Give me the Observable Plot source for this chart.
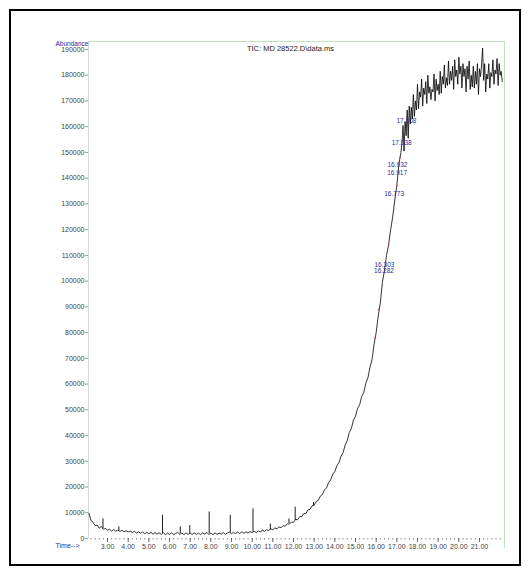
<!DOCTYPE html>
<html>
<head>
<meta charset="utf-8">
<script src="https://cdn.jsdelivr.net/npm/d3@7"></script>
<script src="https://cdn.jsdelivr.net/npm/@observablehq/plot@0.6"></script>
<style>
  html, body { margin: 0; padding: 0; background: #fff; }
  #wrap { position: relative; width: 532px; height: 568px; }
  #border { position: absolute; left: 9px; top: 9px; width: 512px; height: 557px; box-sizing: border-box; border: 2px solid #000; pointer-events: none; }
  svg { display: block; }
</style>
</head>
<body>
<div id="wrap"><div id="border"></div></div>
<script>
// ---- data ----
const title = "TIC: MD 28522.D\\data.ms";
const yTickValues = d3.range(0, 190001, 10000);
const xTickValues = d3.range(3, 21.5, 1);
const xMinorTicks = d3.range(2.2, 22.1, 0.2);

// rise section: sampled every 0.1 min from 2.1 min
const riseStart = 2.1, riseStep = 0.1;
const riseValues = [
  9800, 7000, 6300, 5000, 5200, 4000, 4700, 3600, 3900, 3300,
  3600, 2900, 3500, 2800, 3300, 2700, 3200, 2600, 3000, 2500,
  2900, 2300, 2800, 2100, 2600, 2000, 2500, 1900, 2400, 1800,
  2400, 1700, 2300, 1700, 2200, 1600, 2300, 1500, 2100, 1600,
  2200, 1500, 2000, 2300, 1600, 2100, 1500, 2200, 1600, 2100,
  1500, 2200, 1600, 2100, 1500, 2200, 1700, 2300, 1600, 2100,
  1500, 2200, 1600, 2100, 1700, 2300, 1600, 2200, 2500, 1800,
  2400, 1900, 2500, 1900, 2600, 2000, 2600, 2100, 2700, 2300,
  2800, 2300, 2900, 2600, 3200, 2800, 3400, 3100, 3800, 3400,
  4100, 3800, 4500, 4200, 5000, 4800, 5700, 5600, 6400, 6300,
  7400, 7300, 8500, 8500, 9700, 9700, 11100, 11300, 12700, 12900,
  14400, 14800, 16500, 17100, 18900, 19700, 21800, 22800, 25000, 26000,
  28300, 29500, 32000, 33400, 36300, 38000, 41200, 42700, 46000, 47500,
  50600, 51900, 55200, 56700, 60400, 62400, 66500, 69500, 75500, 80000,
  86500, 91500, 99500, 104000, 110000, 114000, 120000, 125000, 131500, 137000,
  145500, 150000
];

// plateau section: sampled every 0.05 min from 17.25 min
const plateauStart = 17.25, plateauStep = 0.05;
const plateauValues = [
  154000, 160500, 150500, 162000, 156500, 166500, 155500, 168000, 161000, 167500,
  163000, 172500, 164000, 170000, 166500, 176500, 167000, 173500, 171500, 178500,
  168000, 175000, 172500, 177500, 169000, 180000, 173000, 175500, 170500, 174500,
  173500, 180500, 170000, 178500, 174000, 176500, 172500, 181500, 173000, 179500,
  176500, 184000, 175000, 179000, 176000, 185500, 176500, 181500, 178000, 183500,
  174500, 186000, 179500, 182000, 176500, 187000, 180500, 183500, 175000, 184500,
  179500, 182500, 173500, 183500, 178500, 185500, 174500, 180000, 175500, 183500,
  175000, 181500, 176500, 184500, 172500, 182500, 179500, 184000, 190500, 178000,
  184500, 173500, 180500, 178500, 184500, 175000, 181000, 179500, 186000, 176500,
  182000, 180500, 186500, 176000, 184500, 180000, 181500, 177500
];

// narrow spikes on the baseline
const spikeTimes = [2.78, 3.55, 5.66, 6.52, 6.98, 7.92, 8.94, 10.04, 10.88, 11.78, 12.08, 12.97];
const spikeBase  = [3800, 2900, 1900, 1900, 1900, 1900, 2100, 2500, 3300, 5800, 7000, 12800];
const spikePeak  = [7600, 4500, 9000, 4500, 5000, 10300, 9000, 11500, 5600, 7600, 12200, 14000];

// integration marks (red) along the rise
const markTimes  = [15.95, 16.12, 16.45, 16.6, 16.85, 17.0, 17.15];
const markValues = [78000, 89000, 107000, 114000, 128000, 137000, 148000];

// peak retention-time labels
const peakLabels = ["17.368", "17.138", "16.932", "16.917", "16.773", "16.303", "16.282"];
const peakLabelY = [162300, 153700, 145100, 142000, 133900, 106200, 103900];

// ---- build tables ----
const series = [
  ...riseValues.map((v, i) => ({t: riseStart + i * riseStep, v})),
  ...plateauValues.map((v, i) => ({t: plateauStart + i * plateauStep, v}))
];
const spikes = spikeTimes.map((t, i) => ({t, base: spikeBase[i], peak: spikePeak[i]}));
const marks = markTimes.map((t, i) => ({t, v: markValues[i]}));
const labels = peakLabels.map((s, i) => ({t: parseFloat(s), v: peakLabelY[i], s}));

const xMin = 2.08, xMax = 22.21, yMax = 193100, yLow = -3900;
const blue = "#2c2c96";

const chart = Plot.plot({
  width: 532,
  height: 568,
  marginLeft: 88,
  marginRight: 28,
  marginTop: 41,
  marginBottom: 30,
  style: {fontFamily: "'Liberation Sans', Arial, sans-serif", fontSize: "7px", background: "transparent", color: "#333"},
  x: {domain: [xMin, xMax]},
  y: {domain: [0, yMax]},
  marks: [
    // light frame
    Plot.ruleY([yMax], {x1: xMin, x2: xMax, stroke: "#bfe3bf", strokeWidth: 1}),
    Plot.ruleX([xMax], {y1: yLow, y2: yMax, stroke: "#bfe3bf", strokeWidth: 1}),
    Plot.ruleX([xMin], {y1: 0, y2: yMax, stroke: "#d6dcd6", strokeWidth: 1}),
    // axes
    Plot.axisY({ticks: yTickValues, tickSize: 3, tickPadding: 1, tickFormat: d3.format("d"), stroke: "#999", fill: "#444", fontSize: 7, label: null}),
    Plot.axisX({ticks: xMinorTicks, tickSize: 1.5, tickFormat: () => "", stroke: "#888", label: null}),
    Plot.axisX({ticks: xTickValues, tickSize: 4, tickPadding: 2, tickFormat: d => d.toFixed(2), stroke: "#666", fill: "#444", fontSize: 7, label: null}),
    // data
    Plot.line(series, {x: "t", y: "v", stroke: "#000", strokeWidth: 0.8}),
    Plot.ruleX(spikes, {x: "t", y1: "base", y2: "peak", stroke: "#000", strokeWidth: 0.9}),
    Plot.dot(marks, {x: "t", y: "v", r: 0.9, fill: "#d05050", stroke: null}),
    Plot.text(labels, {x: "t", y: "v", text: "s", dx: 2, fill: blue, fontSize: 6.5}),
    // texts
    Plot.text([title], {frameAnchor: "top", dx: -6, dy: 4, fill: "#222", fontSize: 7.5}),
    Plot.text(["Abundance"], {frameAnchor: "top-left", dx: -33, dy: 0, textAnchor: "start", fill: blue, fontSize: 6.5}),
    Plot.text(["Time-->"], {frameAnchor: "bottom-left", dx: -33, dy: 9, textAnchor: "start", fill: blue, fontSize: 7})
  ]
});
document.getElementById("wrap").prepend(chart);
</script>
</body>
</html>
